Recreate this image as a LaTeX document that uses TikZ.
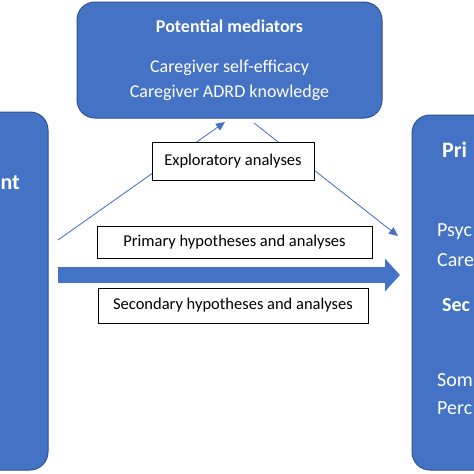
\documentclass[tikz,border=0pt]{standalone}
\usepackage{fontspec}
\setmainfont{Carlito}
\usetikzlibrary{arrows.meta, positioning}
\definecolor{boxblue}{HTML}{4472C4}
\definecolor{boxedge}{HTML}{2F528F}
\tikzset{
  bluebox/.style={
    draw=boxedge,
    fill=boxblue,
    rounded corners=18pt,
    line width=1pt,
    text=white,
    align=center,
  },
  labelbox/.style={
    draw=black,
    fill=white,
    line width=0.8pt,
    font=\fontsize{16.5}{19}\selectfont,
  },
  thinarrow/.style={
    draw=boxblue,
    line width=0.8pt,
    -{Triangle[length=9pt,width=8pt]},
    fill=boxblue
  },
  bigarrow/.style={
    draw=boxblue,
    line width=16pt,
    -{Triangle[length=15pt,width=32pt]}
  },
  frag/.style={
    text=white,
    anchor=west,
    inner sep=0pt,
    font=\fontsize{20}{22}\selectfont
  }
}

\begin{document}
\begin{tikzpicture}[x=1pt,y=-1pt]
\useasboundingbox (0,0) rectangle (474,474);
\clip (0,0) rectangle (474,474);
\fill[white] (0,0) rectangle (474,474);

% outer boxes
\node[bluebox, minimum width=305pt, minimum height=116pt,
  font=\fontsize{18}{25}\selectfont] (mediators) at (229.5,60)
  {\textbf{Potential mediators}\\[15pt] Caregiver self-efficacy\\ Caregiver ADRD knowledge};
\node[bluebox, minimum width=120pt, minimum height=358pt] (intervention) at (-12,291) {};
\node[bluebox, minimum width=120pt, minimum height=355pt] (outcomes) at (472,292.5) {};

% cut-off texts
\node[frag, anchor=east, font=\fontsize{22}{24}\selectfont\bfseries] (ltitle) at (20,183) {nt};
\node[frag, font=\fontsize{22}{24}\selectfont\bfseries] (prim) at (442,150) {Pri};
\node[frag] (psyc) at (437,232) {Psyc};
\node[frag] (care) at (437,260) {Care};
\node[frag, font=\fontsize{20}{22}\selectfont\bfseries] (sec) at (442,305) {Sec};
\node[frag] (som) at (437,380) {Som};
\node[frag] (perc) at (437,408) {Perc};

% connectors
\coordinate (upstart) at (58,240);
\coordinate (upend) at (225,122);
\coordinate (downstart) at (254,123);
\coordinate (downend) at (398,236);
\coordinate (bigstart) at (58,275);
\coordinate (bigend) at (400,275);
\draw[thinarrow] (upstart) -- (upend);
\draw[thinarrow] (downstart) -- (downend);
\draw[bigarrow] (bigstart) -- (bigend);

% analysis labels
\node[labelbox, minimum width=162pt, minimum height=38pt] (explore) at (233,161) {Exploratory analyses};
\node[labelbox, minimum width=275pt, minimum height=32pt] (primary) at (234.5,242) {Primary hypotheses and analyses};
\node[labelbox, minimum width=270pt, minimum height=35pt] (secondary) at (233,305.5) {Secondary hypotheses and analyses};

\end{tikzpicture}
\end{document}
